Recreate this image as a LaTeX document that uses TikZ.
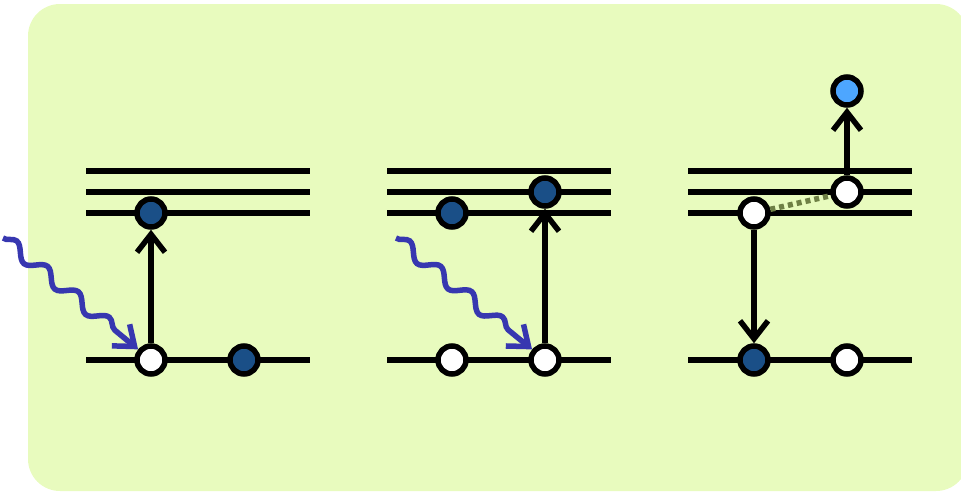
\documentclass[tikz,border=0pt]{standalone}
\usetikzlibrary{arrows.meta,decorations.pathmorphing}
\definecolor{bg}{RGB}{232,251,190}
\definecolor{darkdot}{RGB}{26,79,135}
\definecolor{lightdot}{RGB}{77,166,255}
\definecolor{wavecol}{RGB}{55,55,176}
\definecolor{olivecol}{RGB}{110,127,69}
\begin{document}
\begin{tikzpicture}[x=1pt,y=-1pt,
  level/.style={line width=5.5pt},
  dot/.style={circle, draw, line width=5.5pt, minimum size=28pt, inner sep=0pt},
  full/.style={dot, fill=darkdot},
  empty/.style={dot, fill=white},
  free/.style={dot, fill=lightdot},
  trans/.style={line width=5.5pt, -{Straight Barb[length=18pt,width=28pt]}},
  photon/.style={draw=wavecol, line width=5.5pt, decorate,
    decoration={snake, amplitude=6.5pt, segment length=40pt, post length=18pt},
    -{Straight Barb[length=18pt,width=28pt]}},
  tunnel/.style={draw=olivecol, line width=5.5pt, dash pattern=on 5pt off 4pt}
]
\useasboundingbox (0,0) rectangle (961,491);
\fill[bg, rounded corners=32pt] (28,4) rectangle (968,491);

% level lines
\foreach \x in {86,387,688}{
  \draw[level] (\x,171) -- ++(224,0);
  \draw[level] (\x,192) -- ++(224,0);
  \draw[level] (\x,213) -- ++(224,0);
  \draw[level] (\x,360) -- ++(224,0);
}

% panel 1
\node[full]  (a1) at (151,213) {};
\node[empty] (a2) at (151,360) {};
\node[full]  (a3) at (244,360) {};
\coordinate (w1) at (3,238);
\draw[trans] (a2) -- (a1);
\draw[photon] (w1) -- (a2);

% panel 2
\node[full]  (b1) at (452,213) {};
\node[full]  (b2) at (545,192) {};
\node[empty] (b3) at (452,360) {};
\node[empty] (b4) at (545,360) {};
\coordinate (w2) at (396,238);
\draw[trans] (b4) -- (b2);
\draw[photon] (w2) -- (b4);

% panel 3
\node[empty] (c1) at (754,213) {};
\node[empty] (c2) at (847,192) {};
\node[full]  (c3) at (754,360) {};
\node[empty] (c4) at (847,360) {};
\node[free]  (c5) at (847,91) {};
\draw[trans] (c1) -- (c3);
\draw[trans] (c2) -- (c5);
\draw[tunnel] (c1) -- (c2);
\end{tikzpicture}
\end{document}
